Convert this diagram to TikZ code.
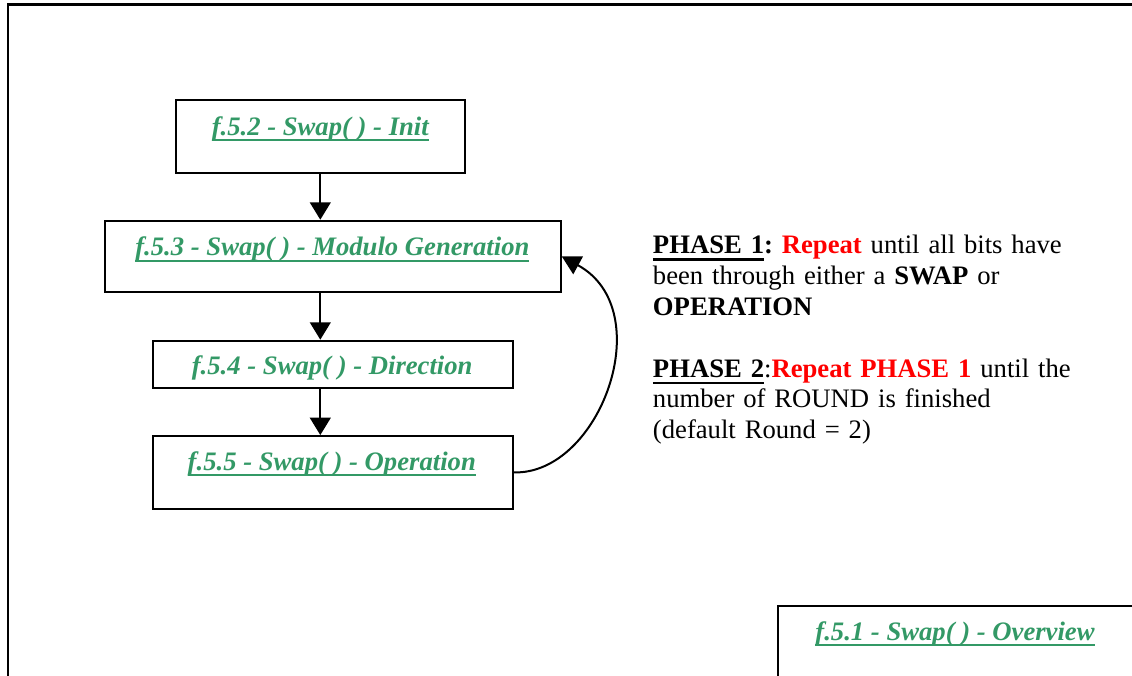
\documentclass[tikz,border=0pt]{standalone}
\usepackage{fontspec}
\setmainfont{Liberation Serif}
\usetikzlibrary{arrows.meta}

\definecolor{linkgreen}{RGB}{51,153,102}
\definecolor{hotred}{RGB}{255,0,0}

% text with a solid rule below it: colour, rule depth, text
\newcommand\ulined[3]{\leavevmode\setbox0\hbox{#3}\rlap{\color{#1}\rule[#2]{\wd0}{1.6pt}}\box0}
% green bold-italic cross reference
\newcommand\xref[1]{\textcolor{linkgreen}{\bfseries\itshape #1}}
\newcommand\xrefu[1]{\ulined{linkgreen}{-4.6pt}{\xref{#1}}}

\begin{document}
\begin{tikzpicture}[x=0.75pt,y=-0.75pt,
  every node/.style={inner sep=0pt, font=\fontsize{20}{23.2}\selectfont\frenchspacing},
  stepbox/.style={draw, line width=1.5pt, fill=white},
  frameline/.style={draw, line width=1.6pt},
  flow/.style={line width=1.5pt, -{Triangle[width=15.5pt,length=13pt]}},
  loopback/.style={line width=1.5pt, -{Triangle[width=15pt,length=14pt]}},
  lbl/.style={anchor=base}]

\useasboundingbox (0,0) rectangle (1132,675);
\clip (0,0) rectangle (1132,675);

% outer frame
\draw[frameline] (8,700) |- (1150,4.5);

% process boxes
\node[stepbox, minimum width=216.4pt, minimum height=54.4pt] (init) at (320.3,136.3) {};
\node[stepbox, minimum width=341.8pt, minimum height=53.5pt] (mod)  at (332.9,256.4) {};
\node[stepbox, minimum width=270pt,   minimum height=35.7pt] (dir)  at (332.7,364.5) {};
\node[stepbox, minimum width=270pt,   minimum height=54.5pt] (op)   at (332.7,472.4) {};

\node[lbl] (init-t) at (320.3,135)   {\xrefu{f.5.2 - Swap( ) - Init}};
\node[lbl] (mod-t)  at (332.4,255.7) {\xrefu{f.5.3 - Swap( ) - Modulo Generation}};
\node[lbl] (dir-t)  at (332.2,374)   {\xref{f.5.4 - Swap( ) - Direction}};
\node[lbl] (op-t)   at (331.8,470)   {\xrefu{f.5.5 - Swap( ) - Operation}};

% overview box in the lower right corner
\node[stepbox, anchor=north west, minimum width=300pt, minimum height=75pt] (ovw) at (777,605) {};
\node[lbl] (ovw-t) at (955,640) {\xrefu{f.5.1 - Swap( ) - Overview}};

% flow between the steps
\draw[flow] (init.south) -- (init.south |- mod.north);
\draw[flow] (init.south |- mod.south) -- (init.south |- dir.north);
\draw[flow] (init.south |- dir.south) -- (init.south |- op.north);
\draw[loopback] (op.east) .. controls (600,475) and (660,310) .. (mod.east);

% phase notes
\node[anchor=base west, align=left, text width=360pt] (note) at (652.7,253.3)
{\ulined{black}{-5.4pt}{\bfseries PHASE 1}\textbf{:} \textcolor{hotred}{\bfseries Repeat} until all bits have\\
been through either a \textbf{SWAP} or\\
\textbf{OPERATION}\\[23.2pt]
\ulined{black}{-5.4pt}{\bfseries PHASE 2}:\textcolor{hotred}{\bfseries Repeat PHASE 1} until the\\
number of ROUND is finished\\
(default Round = 2)};

\end{tikzpicture}
\end{document}
